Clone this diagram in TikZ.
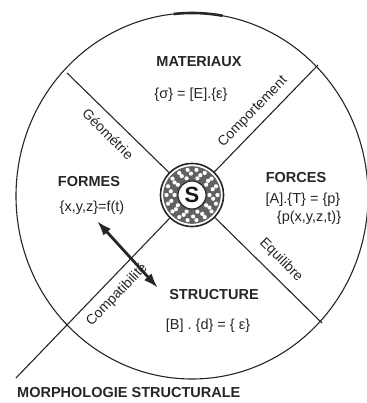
\documentclass[tikz,border=0pt]{standalone}
\usepackage{fontspec}
\setmainfont{Liberation Sans}
\usetikzlibrary{arrows.meta,calc}
\begin{document}
\begin{tikzpicture}[x=1pt,y=-1pt,
  ln/.style={line width=1.1pt, draw=black!85},
  lab/.style={font=\fontsize{14.5}{16}\selectfont\bfseries, text=black!85, inner sep=0pt},
  frm/.style={font=\fontsize{14.5}{16}\selectfont, text=black!85, inner sep=0pt},
  spk/.style={font=\fontsize{14}{15}\selectfont, text=black!85, inner sep=0pt}]
\useasboundingbox (0,0) rectangle (366,403);
% outer ellipse
\draw[ln] (192,196) ellipse [x radius=176, y radius=183];
\draw[line width=2.6pt, black!85] ([shift={(192,196)}]-96:176 and 183) arc[start angle=-96, end angle=-80, x radius=176, y radius=183];
% central S
\node[circle, minimum size=63pt, inner sep=0pt, draw=black!85, line width=1.6pt] (S) at (192,195) {};
\fill[black!62, even odd rule] (S.center) circle[radius=28.8] circle[radius=14];
\foreach \r/\n/\o in {17.5/10/0, 21.5/14/10, 25.5/18/0}
  \foreach \k in {1,...,\n}
    \fill[white] (S.center) ++({\o+360/\n*\k}:\r) circle[radius=2.1];
\draw[black!85, line width=1.1pt, fill=white] (S.center) circle[radius=14];
\node[font=\fontsize{22}{24}\selectfont\bfseries, text=black!90] (Sl) at (S.center) {S};
% spokes
\coordinate (g) at (67,73);
\coordinate (c) at (318,65);
\coordinate (e) at (322,323);
\coordinate (k) at (16,378);
\draw[ln] (S) -- (g);
\draw[ln] (S) -- (c);
\draw[ln] (S) -- (e);
\draw[ln] (S) -- (k);
% arrow
\coordinate (a1) at (97,221);
\coordinate (a2) at (158,288);
\draw[line width=2.8pt, black!85, {Latex[length=15pt,width=10pt]}-{Latex[length=15pt,width=10pt]}] (a1) -- (a2);
% labels
\node[lab] (mat) at (199,62) {MATERIAUX};
\node[frm] (matf) at (191,95) {\{σ\} = [E].\{ε\}};
\node[lab] (for) at (89,182) {FORMES};
\node[frm] (forf) at (92,208) {\{x,y,z\}=f(t)};
\node[lab] (frc) at (296,178) {FORCES};
\node[frm] (frc1) at (303,200) {[A].\{T\} = \{p\}};
\node[frm] (frc2) at (309,218) {\{p(x,y,z,t)\}};
\node[lab] (str) at (214,295) {STRUCTURE};
\node[frm] (strf) at (208,326) {[B] . \{d\} = \{ ε\}};
\node[lab, anchor=west] (morph) at (17,393) {MORPHOLOGIE STRUCTURALE};
% spoke labels
\node[spk, rotate=-45] (geo) at (108,134) {Géométrie};
\node[spk, rotate=46] (comp) at (253,112) {Comportement};
\node[spk, rotate=-45] (equ) at (281,260) {Equilibre};
\node[spk, rotate=46] (cpt) at (117,295) {Compatibilité};
\end{tikzpicture}
\end{document}
